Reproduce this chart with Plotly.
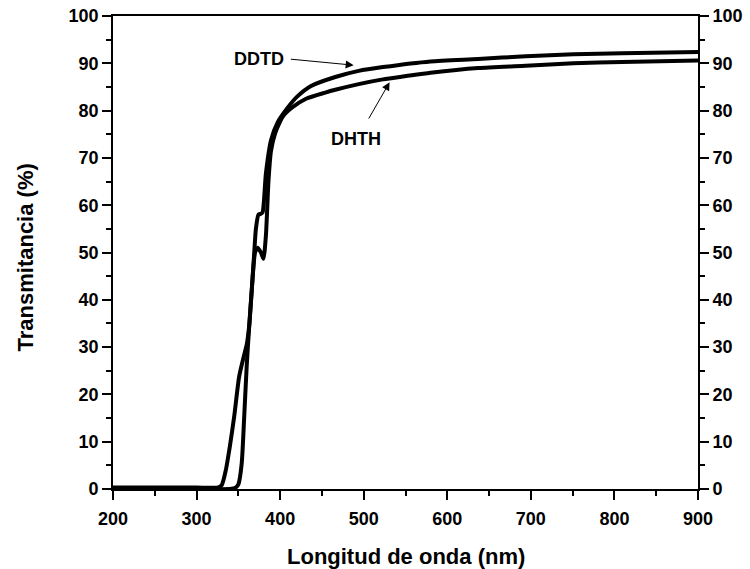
import plotly.graph_objects as go

# Transmittance spectra (wavelength in nm, transmittance in %)
wl_ddtd = [200, 250, 300, 325, 330, 335, 340, 345, 351, 357, 360, 363, 366, 369, 371, 374,
           377, 379, 383, 389, 397, 409, 420, 437, 466, 494, 523, 580, 637, 694, 751, 809, 900]
t_ddtd = [0.3, 0.3, 0.3, 0.3, 0.8, 4.0, 9.2, 15.3, 23.8, 28.4, 30.5, 34.5, 42.0, 50.0, 55.0, 58.0,
          58.2, 58.5, 66.8, 73.7, 77.5, 80.6, 82.9, 85.2, 87.1, 88.4, 89.2, 90.4, 90.9, 91.5, 91.9, 92.1, 92.4]

wl_dhth = [200, 250, 300, 340, 346, 350, 354, 357, 360, 363, 366, 370, 373, 377, 380, 383,
           386, 389, 394, 403, 414, 431, 454, 466, 494, 523, 551, 580, 637, 694, 751, 809, 900]
t_dhth = [0.0, 0.0, 0.0, 0.0, 0.2, 1.0, 5.4, 15.3, 26.0, 34.5, 42.0, 50.0, 51.0, 50.0, 48.7, 53.7,
          65.0, 71.4, 75.2, 78.7, 80.6, 82.5, 83.8, 84.4, 85.6, 86.6, 87.3, 88.0, 89.0, 89.5, 90.0, 90.3, 90.6]

x_ticks = [200, 300, 400, 500, 600, 700, 800, 900]
y_ticks = [0, 10, 20, 30, 40, 50, 60, 70, 80, 90, 100]

FONT = "Liberation Sans, Arial, sans-serif"
line_style = dict(color="black", width=4, shape="spline", smoothing=0.6)

fig = go.Figure()
fig.add_trace(go.Scatter(x=wl_ddtd, y=t_ddtd, mode="lines", line=line_style,
                         name="DDTD", showlegend=False))
fig.add_trace(go.Scatter(x=wl_dhth, y=t_dhth, mode="lines", line=line_style,
                         name="DHTH", showlegend=False, yaxis="y2"))

tick_font = dict(family=FONT, size=18, color="black", weight="bold")
title_font = dict(family=FONT, size=22, color="black", weight="bold")

common_axis = dict(
    showgrid=False, zeroline=False, showline=True, linecolor="black", linewidth=1.8,
    ticks="outside", ticklen=9, tickwidth=1.8, tickcolor="black", tickfont=tick_font,
    automargin=False,
)

fig.update_layout(
    width=750, height=569,
    margin=dict(l=113, r=52, t=16, b=80),
    paper_bgcolor="white", plot_bgcolor="white",
    xaxis=dict(
        **common_axis, range=[200, 900], tickvals=x_ticks,
        ticktext=[str(v) for v in x_ticks], mirror=True, ticklabelstandoff=3,
        minor=dict(ticks="outside", ticklen=5, tickwidth=1.5, tickcolor="black", dtick=50, tick0=200),
    ),
    yaxis=dict(
        **common_axis, range=[0, 100], tickvals=y_ticks,
        ticktext=[str(v) for v in y_ticks],
        minor=dict(ticks="outside", ticklen=5, tickwidth=1.5, tickcolor="black", dtick=5, tick0=0),
    ),
    yaxis2=dict(
        **common_axis, range=[0, 100], tickvals=y_ticks,
        ticktext=[str(v) for v in y_ticks], overlaying="y", side="right", anchor="x",
        minor=dict(ticks="outside", ticklen=5, tickwidth=1.5, tickcolor="black", dtick=5, tick0=0),
    ),
)

# Axis titles
fig.add_annotation(text="Longitud de onda (nm)", xref="paper", yref="paper", x=0.5, y=-0.142,
                   xanchor="center", yanchor="middle", showarrow=False, font=title_font)
fig.add_annotation(text="Transmitancia (%)", xref="paper", yref="paper", x=-0.15, y=0.49,
                   xanchor="center", yanchor="middle", textangle=-90, showarrow=False, font=title_font)

label_font = dict(family=FONT, size=18, color="black", weight="bold")

# Series labels with pointer arrows
fig.add_annotation(x=375, y=91.0, text="DDTD", showarrow=False, font=label_font)
fig.add_annotation(x=488, y=89.6, ax=411, ay=90.9, axref="x", ayref="y", xref="x", yref="y",
                   text="", showarrow=True, arrowhead=2, arrowsize=1.6, arrowwidth=1, arrowcolor="black")
fig.add_annotation(x=491, y=74, text="DHTH", showarrow=False, font=label_font)
fig.add_annotation(x=531, y=86.0, ax=505, ay=78.0, axref="x", ayref="y", xref="x", yref="y",
                   text="", showarrow=True, arrowhead=2, arrowsize=1.6, arrowwidth=1, arrowcolor="black")

fig.write_html("out.html")
